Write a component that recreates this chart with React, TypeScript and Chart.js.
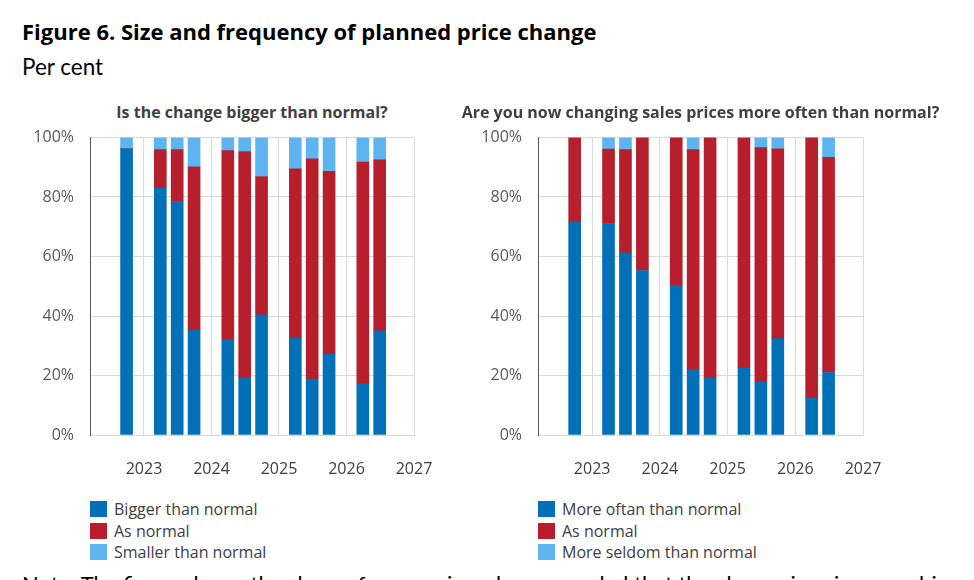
import React, { useEffect, useRef } from "react";
import { Chart, registerables } from "chart.js";

Chart.register(...registerables);

// Survey rounds (year + quarter)
const periods = [
  "2022 Q3",
  "2023 Q1", "2023 Q2", "2023 Q3",
  "2024 Q1", "2024 Q2", "2024 Q3",
  "2025 Q1", "2025 Q2", "2025 Q3",
  "2026 Q1", "2026 Q2",
];

// Year labels on the time axis
const yearTicks = [2023, 2024, 2025, 2026, 2027];

// Left panel: is the change bigger than normal? (per cent of respondents)
const biggerThanNormal = [96.2, 83.0, 78.5, 35.3, 32.2, 19.3, 40.4, 32.5, 18.8, 27.2, 17.2, 35.0];
const sizeAsNormal = [0, 12.9, 17.4, 54.8, 63.4, 76.0, 46.5, 57.0, 74.0, 61.4, 74.5, 57.5];
const smallerThanNormal = [3.8, 4.1, 4.1, 9.9, 4.4, 4.7, 13.1, 10.5, 7.2, 11.4, 8.3, 7.5];

// Right panel: changing sales prices more often than normal? (per cent)
const moreOftenThanNormal = [71.6, 71.1, 61.2, 55.3, 50.2, 22.1, 19.1, 22.6, 17.7, 32.4, 12.3, 21.0];
const frequencyAsNormal = [28.4, 25.0, 34.7, 44.7, 49.8, 73.8, 80.9, 77.4, 78.9, 63.8, 87.7, 72.3];
const moreSeldomThanNormal = [0, 3.9, 4.1, 0, 0, 4.1, 0, 0, 3.4, 3.8, 0, 6.7];

const DARK_BLUE = "#0070B8";
const RED = "#B81F2D";
const LIGHT_BLUE = "#5DB4F0";

const TICK_FONT = "'Open Sans', 'Noto Sans', sans-serif";
const HEAD_FONT = "'Open Sans', 'Noto Sans', sans-serif";
const BODY_FONT = "Lato, 'Noto Sans', sans-serif";

// Each round is placed near the end of its quarter on a continuous year axis
function periodToX(p: string): number {
  const [y, q] = p.split(" Q");
  return Number(y) + (Number(q) * 3 - 0.1) / 12;
}

type Series = { label: string; values: number[]; color: string };

type PanelProps = {
  title: string;
  series: Series[];
  left: number;
  width: number;
  padLeft: number;
  padRight: number;
};

const CANVAS_TOP = 95;
const CANVAS_H = 400;
const PAD_TOP = 42.5;
const PAD_BOTTOM = 15;
const Y_AXIS_W = 70;
const X_AXIS_H = 45;

function Panel({ title, series, left, width, padLeft, padRight }: PanelProps) {
  const ref = useRef<HTMLCanvasElement | null>(null);

  useEffect(() => {
    const canvas = ref.current;
    if (!canvas) return;
    const chart = new Chart(canvas, {
      type: "bar",
      data: {
        datasets: series.map((s) => ({
          label: s.label,
          data: periods.map((p, i) => ({ x: periodToX(p), y: s.values[i] })),
          backgroundColor: s.color,
          borderWidth: 0,
          barThickness: 12,
        })),
      },
      options: {
        responsive: false,
        animation: false,
        layout: { padding: { left: padLeft, right: padRight, top: PAD_TOP, bottom: PAD_BOTTOM } },
        plugins: {
          legend: { display: false },
          tooltip: { enabled: false },
          title: { display: false },
        },
        scales: {
          x: {
            type: "linear",
            stacked: true,
            offset: false,
            min: 2022.2,
            max: 2027,
            afterBuildTicks: (axis: any) => {
              axis.ticks = yearTicks.map((v) => ({ value: v }));
            },
            afterFit: (axis: any) => {
              axis.height = X_AXIS_H;
              axis.paddingLeft = 0;
              axis.paddingRight = 0;
            },
            grid: { color: "#D9D9D9", drawTicks: false, offset: false },
            border: { color: "#D9D9D9" },
            ticks: {
              padding: 25,
              color: "#404040",
              autoSkip: false,
              maxRotation: 0,
              font: { family: TICK_FONT, size: 16 },
              callback: (v: any) => String(v),
            },
          },
          y: {
            stacked: true,
            min: 0,
            max: 100,
            afterFit: (axis: any) => {
              axis.width = Y_AXIS_W;
            },
            grid: { color: "#D9D9D9", drawTicks: false },
            border: { color: "#595959" },
            ticks: {
              stepSize: 20,
              padding: 16,
              color: "#595959",
              font: { family: TICK_FONT, size: 16 },
              callback: (v: any) => `${v}%`,
            },
          },
        },
      },
    } as any);
    return () => chart.destroy();
  }, [series, padLeft, padRight]);

  const plotLeft = left + padLeft + Y_AXIS_W;
  const plotRight = left + width - padRight;
  const plotCenter = (plotLeft + plotRight) / 2;

  return (
    <>
      <div
        style={{
          position: "absolute",
          left: plotCenter - 300,
          width: 600,
          top: 104,
          textAlign: "center",
          whiteSpace: "nowrap",
          fontFamily: HEAD_FONT,
          fontWeight: 700,
          fontSize: 16,
          lineHeight: "16px",
          color: "#404040",
        }}
      >
        {title}
      </div>
      <canvas
        ref={ref}
        width={width}
        height={CANVAS_H}
        style={{ position: "absolute", left, top: CANVAS_TOP, width, height: CANVAS_H }}
      />
      <div style={{ position: "absolute", left: plotLeft, top: 498 }}>
        {series.map((s) => (
          <div key={s.label} style={{ display: "flex", alignItems: "center", height: 21.7 }}>
            <span
              style={{
                display: "inline-block",
                width: 17,
                height: 16,
                background: s.color,
                marginRight: 7,
              }}
            />
            <span
              style={{
                fontFamily: TICK_FONT,
                fontSize: 16,
                color: "#404040",
                whiteSpace: "nowrap",
                lineHeight: "20px",
              }}
            >
              {s.label}
            </span>
          </div>
        ))}
      </div>
    </>
  );
}

const sizeSeries: Series[] = [
  { label: "Bigger than normal", values: biggerThanNormal, color: DARK_BLUE },
  { label: "As normal", values: sizeAsNormal, color: RED },
  { label: "Smaller than normal", values: smallerThanNormal, color: LIGHT_BLUE },
];

const frequencySeries: Series[] = [
  { label: "More oftan than normal", values: moreOftenThanNormal, color: DARK_BLUE },
  { label: "As normal", values: frequencyAsNormal, color: RED },
  { label: "More seldom than normal", values: moreSeldomThanNormal, color: LIGHT_BLUE },
];

export default function App() {
  return (
    <div
      style={{
        position: "absolute",
        left: 0,
        top: 0,
        width: 974,
        height: 580,
        overflow: "hidden",
        background: "#FFFFFF",
      }}
    >
      <div
        style={{
          position: "absolute",
          left: 22,
          top: 19,
          fontFamily: HEAD_FONT,
          fontWeight: 700,
          fontSize: 22,
          lineHeight: "24px",
          color: "#000000",
          whiteSpace: "nowrap",
        }}
      >
        Figure 6. Size and frequency of planned price change
      </div>
      <div
        style={{
          position: "absolute",
          left: 22,
          top: 55.6,
          fontFamily: BODY_FONT,
          fontSize: 22.5,
          lineHeight: "22px",
          color: "#000000",
          whiteSpace: "nowrap",
        }}
      >
        Per cent
      </div>
      <Panel
        title="Is the change bigger than normal?"
        series={sizeSeries}
        left={0}
        width={450}
        padLeft={20}
        padRight={36}
      />
      <Panel
        title="Are you now changing sales prices more often than normal?"
        series={frequencySeries}
        left={450}
        width={520}
        padLeft={18}
        padRight={107}
      />
      <div
        style={{
          position: "absolute",
          left: 22,
          top: 573,
          fontFamily: BODY_FONT,
          fontSize: 22,
          lineHeight: "22px",
          color: "#000000",
          whiteSpace: "nowrap",
        }}
      >
        Note: The figure shows the share of companies who responded that the change in prices was bigger
      </div>
    </div>
  );
}
